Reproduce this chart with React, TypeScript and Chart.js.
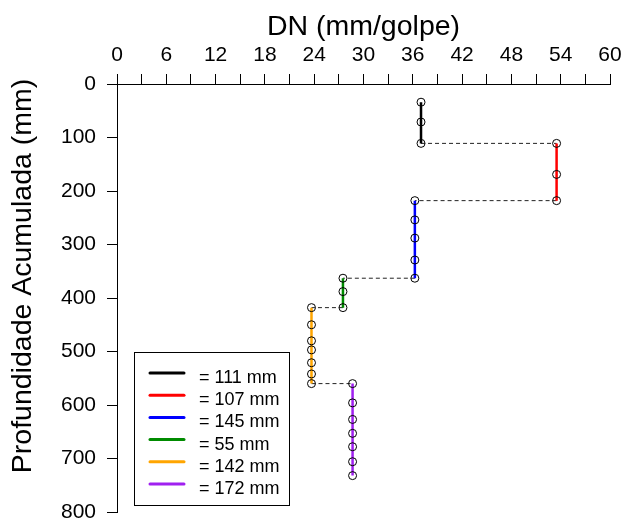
import React, { useEffect, useRef } from "react";
import { Chart, registerables } from "chart.js";

Chart.register(...registerables);

// ---- data ----
const dnValues = [37, 53.5, 36.25, 27.5, 23.67, 28.67];
const depthBlack = [34, 71, 111];
const depthRed = [111, 169, 218];
const depthBlue = [218, 254, 288, 329, 363];
const depthGreen = [363, 388, 418];
const depthOrange = [418, 450, 480, 497, 521, 542, 560];
const depthPurple = [560, 596, 627, 653, 678, 706, 732];
const layerDepths = [depthBlack, depthRed, depthBlue, depthGreen, depthOrange, depthPurple];
const seriesColors = ["#000000", "#FF0000", "#0000FF", "#008B00", "#FFA500", "#A020F0"];
const legendLabels = ["= 111 mm", "= 107 mm", "= 145 mm", "= 55 mm", "= 142 mm", "= 172 mm"];
const xTitle = "DN (mm/golpe)";
const yTitle = "Profundidade Acumulada (mm)";
const xMin = 0;
const xMax = 60;
const xTickStep = 3;
const xLabelStep = 6;
const yMin = 0;
const yMax = 800;
const yTickStep = 100;

const FONT = '"Liberation Sans", Arial, Helvetica, sans-serif';

export default function App() {
  const ref = useRef<HTMLCanvasElement | null>(null);

  useEffect(() => {
    const canvas = ref.current;
    if (!canvas) return;

    const layerSets = layerDepths.map((depths, i) => ({
      type: "line" as const,
      label: legendLabels[i],
      data: depths.map((d) => ({ x: dnValues[i], y: d })),
      borderColor: seriesColors[i],
      borderWidth: 2.5,
      pointRadius: 4,
      pointHoverRadius: 4,
      pointBorderColor: "#000000",
      pointBackgroundColor: "rgba(0,0,0,0)",
      pointBorderWidth: 1,
      fill: false,
      tension: 0,
      clip: false as const,
    }));

    const connectorSets = layerDepths.slice(1).map((depths, k) => ({
      type: "line" as const,
      label: "conn" + k,
      data: [
        { x: dnValues[k], y: depths[0] },
        { x: dnValues[k + 1], y: depths[0] },
      ],
      borderColor: "#222222",
      borderWidth: 1,
      borderDash: [4, 3],
      pointRadius: 0,
      pointHoverRadius: 0,
      fill: false,
      tension: 0,
      clip: false as const,
    }));

    const overlay = {
      id: "overlay",
      afterDraw(chart: any) {
        const ctx = chart.ctx as CanvasRenderingContext2D;
        const area = chart.chartArea;
        ctx.save();
        ctx.fillStyle = "#000";
        // x title
        ctx.font = `28.5px ${FONT}`;
        ctx.textAlign = "center";
        ctx.textBaseline = "alphabetic";
        ctx.fillText(xTitle, (area.left + area.right) / 2, 35);
        // y title
        ctx.save();
        ctx.translate(31, 276);
        ctx.rotate(-Math.PI / 2);
        ctx.fillText(yTitle, 0, 0);
        ctx.restore();

        // legend
        const bx = 134.5, by = 352.5, bw = 155, bh = 153;
        ctx.strokeStyle = "#000";
        ctx.lineWidth = 1;
        ctx.strokeRect(bx, by, bw, bh);
        const rowY0 = 373;
        const rowGap = 22.2;
        ctx.font = `18px ${FONT}`;
        ctx.textAlign = "left";
        ctx.textBaseline = "middle";
        legendLabels.forEach((lab, i) => {
          const y = rowY0 + i * rowGap;
          ctx.strokeStyle = seriesColors[i];
          ctx.lineWidth = 3;
          ctx.lineCap = "round";
          ctx.beginPath();
          ctx.moveTo(150, y);
          ctx.lineTo(184, y);
          ctx.stroke();
          ctx.fillStyle = "#000";
          ctx.fillText(lab, 199, y + 5);
        });
        ctx.restore();
      },
    };

    const chart = new Chart(canvas, {
      type: "line",
      data: { datasets: [...layerSets, ...connectorSets] as any },
      options: {
        animation: false,
        responsive: false,
        maintainAspectRatio: false,
        parsing: false as any,
        layout: { padding: { left: 0, top: 0, right: 13, bottom: 11 } },
        plugins: {
          legend: { display: false },
          tooltip: { enabled: false },
          title: { display: false },
        },
        scales: {
          x: {
            type: "linear",
            position: "top",
            min: xMin,
            max: xMax,
            afterFit: (s: any) => {
              s.height = 84;
              s.paddingLeft = 0;
              s.paddingRight = 0;
            },
            ticks: {
              stepSize: xTickStep,
              autoSkip: false,
              maxRotation: 0,
              padding: 6,
              color: "#000",
              font: { family: FONT, size: 21 },
              callback: (v: any) => (Number(v) % xLabelStep === 0 ? String(v) : ""),
            },
            grid: {
              display: true,
              drawOnChartArea: false,
              drawTicks: true,
              tickLength: 10,
              color: "#000",
              lineWidth: 1,
            },
            border: { display: true, color: "#000", width: 1 },
          },
          y: {
            type: "linear",
            position: "left",
            reverse: true,
            min: yMin,
            max: yMax,
            afterFit: (s: any) => {
              s.width = 117;
              s.paddingTop = 0;
              s.paddingBottom = 0;
            },
            ticks: {
              stepSize: yTickStep,
              padding: 11,
              color: "#000",
              font: { family: FONT, size: 21 },
            },
            grid: {
              display: true,
              drawOnChartArea: false,
              drawTicks: true,
              tickLength: 10,
              color: "#000",
              lineWidth: 1,
            },
            border: { display: true, color: "#000", width: 1 },
          },
        },
      },
      plugins: [overlay],
    });

    return () => chart.destroy();
  }, []);

  return (
    <div style={{ position: "fixed", left: 0, top: 0, width: 623, height: 523, background: "#fff" }}>
      <canvas ref={ref} width={623} height={523} style={{ width: 623, height: 523, display: "block" }} />
    </div>
  );
}
